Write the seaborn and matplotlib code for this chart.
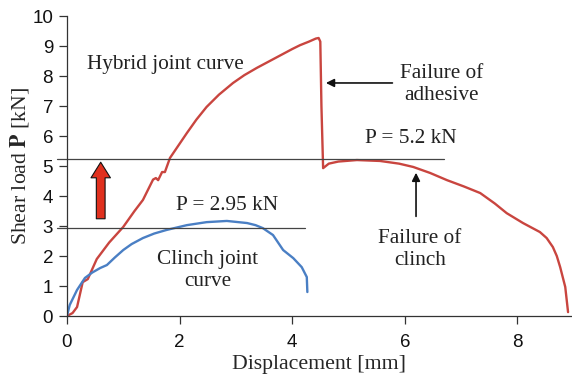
import numpy as np
import pandas as pd
import matplotlib
matplotlib.use("Agg")
import matplotlib.pyplot as plt
import seaborn as sns

# hybrid joint (adhesive + clinch) curve
hybrid_disp = [0.0, 0.1, 0.18, 0.28, 0.37, 0.53, 0.75, 1.0, 1.2, 1.35, 1.53, 1.58, 1.62, 1.69, 1.74,
               1.83, 2.13, 2.3, 2.48, 2.7, 2.95, 3.15, 3.37, 3.6, 3.78, 4.0, 4.14, 4.3, 4.42, 4.47,
               4.5, 4.52, 4.55, 4.65, 4.82, 5.15, 5.56, 5.9, 6.15, 6.45, 6.75, 7.05, 7.34, 7.6,
               7.81, 8.1, 8.4, 8.52, 8.63, 8.7, 8.76, 8.85, 8.9]
hybrid_load = [0.0, 0.1, 0.3, 1.13, 1.23, 1.9, 2.45, 2.97, 3.5, 3.87, 4.55, 4.6, 4.53, 4.8, 4.8,
               5.27, 6.1, 6.55, 6.97, 7.38, 7.77, 8.03, 8.27, 8.5, 8.68, 8.9, 9.03, 9.15, 9.25, 9.27,
               9.15, 7.0, 4.93, 5.08, 5.15, 5.2, 5.17, 5.08, 4.97, 4.77, 4.53, 4.32, 4.1, 3.75,
               3.43, 3.1, 2.8, 2.6, 2.3, 2.0, 1.63, 0.97, 0.13]

# clinch joint curve
clinch_disp = [0.0, 0.05, 0.18, 0.32, 0.45, 0.59, 0.71, 0.85, 1.0, 1.15, 1.35, 1.55, 1.77, 2.13,
               2.48, 2.84, 3.2, 3.35, 3.48, 3.66, 3.75, 3.84, 4.02, 4.17, 4.26, 4.27]
clinch_load = [0.0, 0.37, 0.87, 1.27, 1.45, 1.6, 1.7, 1.95, 2.2, 2.4, 2.6, 2.75, 2.87, 3.03,
               3.13, 3.17, 3.1, 3.03, 2.93, 2.7, 2.45, 2.2, 1.93, 1.63, 1.3, 0.8]

p_hybrid = 5.25
p_clinch = 2.95

hybrid = pd.DataFrame({"disp": hybrid_disp, "load": hybrid_load})
clinch = pd.DataFrame({"disp": clinch_disp, "load": clinch_load})

sns.set_style("ticks")
plt.rcParams["font.family"] = ["Liberation Sans", "DejaVu Sans"]
plt.rcParams["mathtext.fontset"] = "stix"
serif = ["Liberation Serif", "DejaVu Serif"]

fig = plt.figure(figsize=(5.72, 3.74), dpi=100)
ax = fig.add_axes([0.117, 0.155, 0.883, 0.802])

sns.lineplot(data=hybrid, x="disp", y="load", sort=False, color="#c9453f", lw=1.7, ax=ax)
sns.lineplot(data=clinch, x="disp", y="load", sort=False, color="#4a7fc4", lw=1.7, ax=ax)

# reference load levels
ax.plot([-0.17, 6.7], [p_hybrid, p_hybrid], color="#444444", lw=0.9, clip_on=False)
ax.plot([-0.17, 4.22], [p_clinch, p_clinch], color="#444444", lw=0.9, clip_on=False)

ax.set_xlim(0, 8.97)
ax.set_ylim(0, 10)
ax.set_xticks([0, 2, 4, 6, 8])
ax.set_yticks(range(0, 11))
ax.tick_params(labelsize=13.5, length=6, width=0.9, color="#333333", labelcolor="#111111")
ax.tick_params(axis="x", pad=7)
ax.tick_params(axis="y", pad=4)
for s in ["top", "right"]:
    ax.spines[s].set_visible(False)
for s in ["left", "bottom"]:
    ax.spines[s].set_color("#333333")
    ax.spines[s].set_linewidth(0.9)

ax.set_xlabel("Displacement [mm]", family=serif, fontsize=15.7, labelpad=3)
ax.set_ylabel(r"Shear load $\mathbf{P}$ [kN]", family=serif, fontsize=15.7, labelpad=1)

tk = dict(family=serif, fontsize=15.3, color="#222222", ha="center", va="center")
ax.text(1.74, 8.37, "Hybrid joint curve", **tk)
ax.text(6.66, 7.72, "Failure of\nadhesive", linespacing=1.2, **tk)
ax.text(6.11, 5.93, "P = 5.2 kN", **tk)
ax.text(2.84, 3.7, "P = 2.95 kN", **tk)
ax.text(2.5, 1.52, "Clinch joint\ncurve", linespacing=1.2, **tk)
ax.text(6.27, 2.22, "Failure of\nclinch", linespacing=1.2, **tk)

ax.annotate("", xy=(4.55, 7.77), xytext=(5.83, 7.77),
            arrowprops=dict(arrowstyle="-|>", color="#111111", lw=1.2, mutation_scale=12))
ax.annotate("", xy=(6.2, 4.87), xytext=(6.2, 3.23),
            arrowprops=dict(arrowstyle="-|>", color="#111111", lw=1.2, mutation_scale=12))

# red arrow from clinch level to hybrid level
ax.annotate("", xy=(0.6, 5.22), xytext=(0.6, 3.15),
            arrowprops=dict(arrowstyle="simple,head_width=1.0,head_length=0.8,tail_width=0.45",
                            fc="#e0301e", ec="#111111", lw=0.8, mutation_scale=14))

fig.savefig("out.png", dpi=100)
